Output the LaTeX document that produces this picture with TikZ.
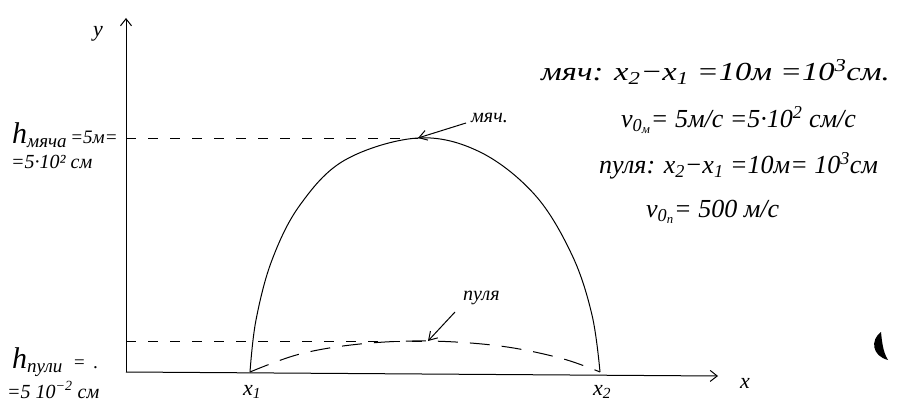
\documentclass[tikz,border=0pt]{standalone}
\usepackage{fontspec}
\setmainfont{Liberation Serif}
\newfontfamily\widefont{Liberation Serif}[FakeStretch=1.25]
\usetikzlibrary{arrows.meta}
\newcommand{\sbs}[1]{\textsubscript{#1}}
\newcommand{\sps}[1]{\textsuperscript{#1}}
\tikzset{
  hand/.style={font=\itshape\fontsize{26}{28}\selectfont, inner sep=1pt},
  axl/.style={font=\itshape\fontsize{22}{24}\selectfont, inner sep=1pt},
  small/.style={font=\itshape\fontsize{20}{22}\selectfont, inner sep=1pt},
  note/.style={font=\itshape\fontsize{20}{22}\selectfont, inner sep=1pt},
  axis/.style={line width=1pt, -{Straight Barb[length=7pt,width=11pt]}},
  guide/.style={dashed, dash pattern=on 10pt off 12pt, line width=0.7pt},
  curve/.style={line width=1pt},
  pointer/.style={line width=1pt, -{Straight Barb[length=8pt,width=10pt]}}
}
\begin{document}
\begin{tikzpicture}[x=1pt,y=-1pt]
\useasboundingbox (0,0) rectangle (905,406);
% axes
\coordinate (O) at (126,372);
\coordinate (ytop) at (126,18);
\coordinate (xend) at (718,376);
\draw[axis] (O) -- (ytop);
\draw[axis] (O) -- (xend);
\node[axl] (ylab) at (98,34) {y};
\node[axl] (xlab) at (745,383) {x};
\node[axl] (x1) at (252,392) {x\sbs{1}};
\node[axl] (x2) at (602,392) {x\sbs{2}};
% points
\coordinate (A) at (250,372);
\coordinate (B) at (600,372);
\coordinate (P) at (418,138);
\coordinate (Q) at (428,341);
% ball trajectory
\draw[curve] plot[smooth, tension=0.6] coordinates {(A) (256,320) (272,260) (300,205) (345,160) (418,138) (480,152) (535,195) (572,255) (592,315) (B)};
% bullet trajectory
\draw[curve, dashed, dash pattern=on 20pt off 12pt] plot[smooth, tension=0.6] coordinates {(A) (300,354) (360,344) (Q) (500,346) (560,358) (B)};
% guide lines
\coordinate (hb) at (126,138);
\coordinate (hp) at (126,341);
\draw[guide] (hb) -- (P);
\draw[guide] (hp) -- (Q);
% heights
\node[small, anchor=west] (hm1) at (11,135) {\fontsize{30}{30}\selectfont h\sbs{\fontsize{19}{19}\selectfont мяча}\fontsize{19}{19}\selectfont\,=5м=};
\node[small, anchor=west] (hm2) at (10,162) {=5·10² см};
\node[small, anchor=west] (hp1) at (11,362) {\fontsize{30}{30}\selectfont h\sbs{\fontsize{19}{19}\selectfont пули}\fontsize{19}{19}\selectfont\hspace{10pt}=\hspace{8pt}.};
\node[small, anchor=west] (hp2) at (6,390) {=5 10\sps{−2} см};
% pointers
\node[note, anchor=west] (lm) at (470,118) {мяч.};
\coordinate (lmtail) at (466,123);
\draw[pointer] (lmtail) -- (P);
\node[note, anchor=west] (lp) at (462,298) {пуля};
\coordinate (lptail) at (455,312);
\draw[pointer] (lptail) -- (Q);
% data
\node[hand, anchor=west] (t1) at (540,72) {\widefont\itshape мяч: x\sbs{2}−x\sbs{1} =10м =10\sps{3}см.};
\node[hand, anchor=west] (t2) at (620,120) {v\sbs{0\sbs{м}}= 5м/с =5·10\sps{2} см/с};
\node[hand, anchor=west] (t3) at (598,166) {пуля: x\sbs{2}−x\sbs{1} =10м= 10\sps{3}см};
\node[hand, anchor=west] (t4) at (645,212) {v\sbs{0\sbs{п}}= 500 м/с};
% blot
\fill (881,332) .. controls (870,340) and (872,356) .. (888,360) .. controls (883,352) and (882,342) .. (881,332);
\end{tikzpicture}
\end{document}
